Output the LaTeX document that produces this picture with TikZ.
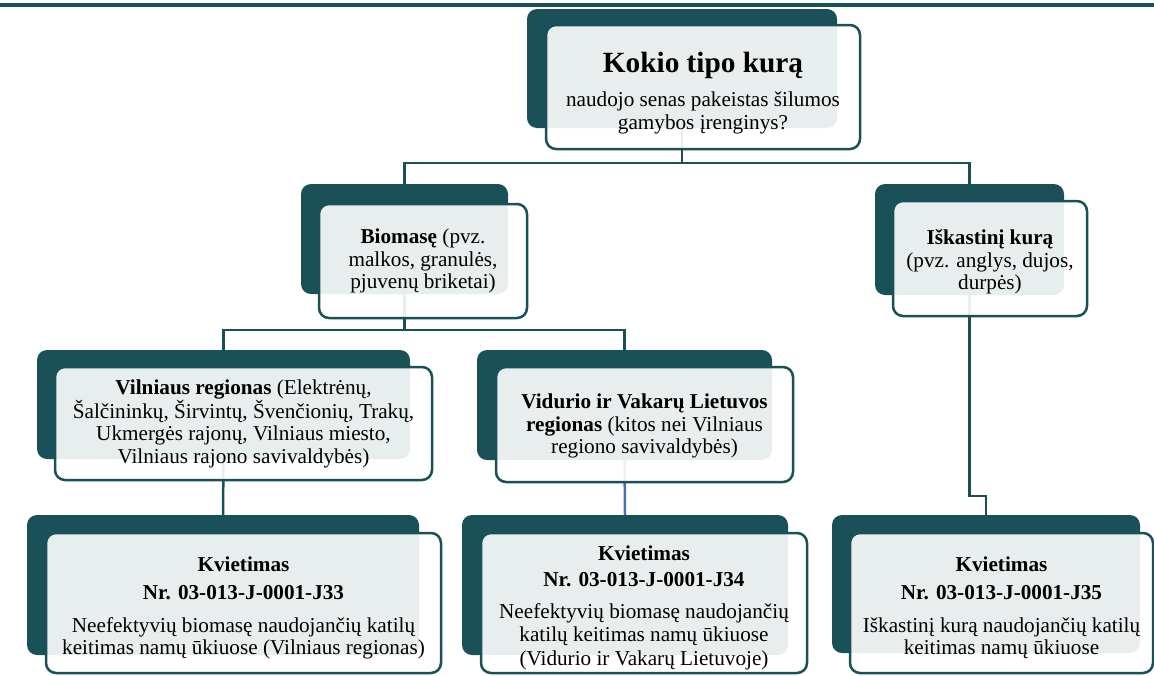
\documentclass[tikz,border=0pt]{standalone}
\usepackage{fontspec}
\setmainfont{Liberation Serif}
\definecolor{tealdark}{HTML}{1A5058}
\definecolor{linkblue}{HTML}{4A6FB8}
\newcommand{\topgap}[1]{\rule{0pt}{#1}}

\begin{document}
\begin{tikzpicture}[x=1pt,y=-1pt,
    back/.style={fill=tealdark, rounded corners=10pt, inner sep=0pt},
    front/.style={draw=tealdark, line width=2.5pt, fill=white, fill opacity=0.9,
      text opacity=1, rounded corners=10pt, align=center, inner sep=0pt,
      font=\fontsize{21.2}{22.5}\selectfont},
    link/.style={draw=tealdark, line width=2.5pt}]
  \useasboundingbox (0,0) rectangle (1154,675);
  \draw[tealdark, line width=4pt] (0,5) -- (1154,5);
  % dark plates behind the boxes
  \foreach \n/\x/\y/\w/\h in {top/682/68.5/310/119, bio/404.5/239/207/110,
      isk/969.5/239.5/189/111, vil/223.5/404.5/373/109, vid/624.5/405/295/110,
      jtt/223/585/392/140, jtf/625/585/326/140, jtv/986/584/308/138}
    \node[back, minimum width=\w, minimum height=\h] (\n) at (\x,\y) {};
  % connectors
  \draw[link] (top.south) -- ++(0,35) -| (bio.north);
  \draw[link] (top.south) -- ++(0,35) -| (isk.north);
  \draw[link] (bio.south) -- ++(0,36) -| (vil.north);
  \draw[link] (bio.south) -- ++(0,36) -| (vid.north);
  \draw[link] (vil.south) -- (jtt.north);
  \draw[link, linkblue] (vid.south) -- (jtf.north);
  \draw[link] (isk.south) -- ++(0,201) -| (jtv.north);
  % boxes with text
  \node[front, minimum width=314, minimum height=124] (topf) at (703,87)
    {{\fontsize{29.3}{32}\selectfont\bfseries\topgap{32pt}Kokio tipo kurą}\\[12pt]
     naudojo senas pakeistas šilumos\\ gamybos įrenginys?};
  \node[front, minimum width=208, minimum height=114] (biof) at (423,261)
    {\textbf{Biomasę} (pvz.\\ malkos, granulės,\\ pjuvenų briketai)};
  \node[front, minimum width=194, minimum height=115] (iskf) at (990,258.5)
    {\topgap{22pt}\textbf{Iškastinį kurą}\\ (pvz. anglys, dujos,\\ durpės)};
  \node[front, minimum width=377, minimum height=113] (vilf) at (243.5,423.5)
    {\textbf{Vilniaus regionas} (Elektrėnų,\\ Šalčininkų, Širvintų, Švenčionių, Trakų,\\
     Ukmergės rajonų, Vilniaus miesto,\\ Vilniaus rajono savivaldybės)};
  \node[front, minimum width=297, minimum height=115] (vidf) at (644.5,424.5)
    {\topgap{18pt}\textbf{Vidurio ir Vakarų Lietuvos}\\ \textbf{regionas} (kitos nei Vilniaus\\
     regiono savivaldybės)};
  \node[front, minimum width=395, minimum height=140] (jttf) at (243.5,603)
    {\topgap{25pt}\textbf{Kvietimas}\\[6pt] \textbf{Nr. 03-013-J-0001-J33}\\[10pt]
     Neefektyvių biomasę naudojančių katilų\\ keitimas namų ūkiuose (Vilniaus regionas)};
  \node[front, minimum width=326, minimum height=140] (jtff) at (644,603)
    {\topgap{24pt}\textbf{Kvietimas}\\[4pt] \textbf{Nr. 03-013-J-0001-J34}\\[9pt]
     Neefektyvių biomasę naudojančių\\[1pt] katilų keitimas namų ūkiuose\\[1pt]
     (Vidurio ir Vakarų Lietuvoje)};
  \node[front, minimum width=303, minimum height=140] (jtvf) at (1001.5,603)
    {\topgap{24pt}\textbf{Kvietimas}\\[6pt] \textbf{Nr. 03-013-J-0001-J35}\\[10pt]
     Iškastinį kurą naudojančių katilų\\ keitimas namų ūkiuose};
\end{tikzpicture}
\end{document}
